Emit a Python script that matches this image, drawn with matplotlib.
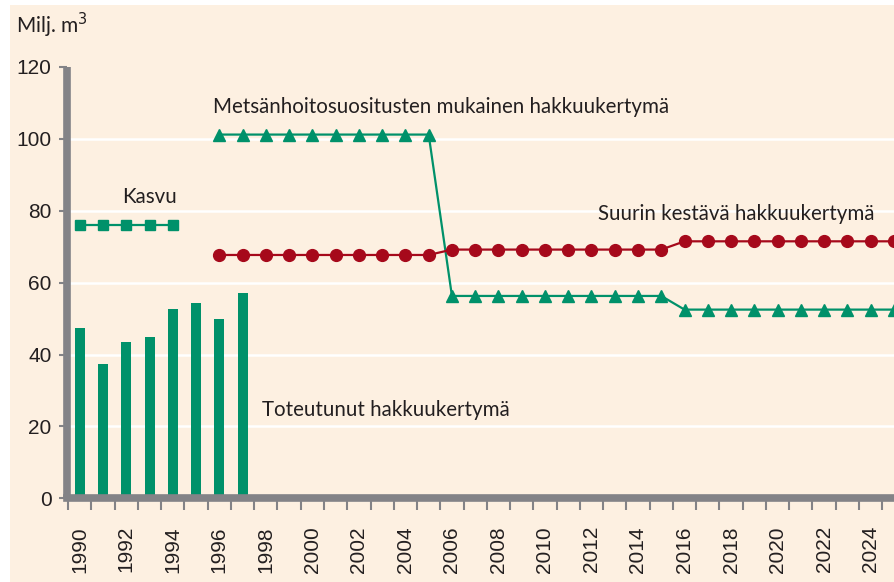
import numpy as np
import matplotlib
matplotlib.use('Agg')
import matplotlib.pyplot as plt
from matplotlib.patches import Rectangle

# data
bar_years = [1990, 1991, 1992, 1993, 1994, 1995, 1996, 1997]
bar_vals = [47.5, 37.5, 43.6, 44.8, 52.6, 54.2, 49.8, 57.0]

kasvu_years = [1990, 1991, 1992, 1993, 1994]
kasvu_vals = [76.1, 76.1, 76.1, 76.1, 76.1]

mets_years = list(range(1996, 2026))
mets_vals = [101.2] * 10 + [56.3] * 10 + [52.5] * 10

suurin_years = list(range(1996, 2026))
suurin_vals = [67.7] * 10 + [69.2] * 10 + [71.5] * 10

tick_years = list(range(1990, 2025, 2))
ytick_vals = [0, 20, 40, 60, 80, 100, 120]

bg = '#fdf0e1'
green = '#00916a'
red = '#a6091b'
grey = '#838387'
txt = '#231f20'

plt.rcParams['font.family'] = ['Liberation Sans', 'DejaVu Sans']

fig = plt.figure(figsize=(8.95, 5.82), dpi=100, facecolor='white')
fig.patches.append(Rectangle((10 / 895, 0), 1, 1 - 5 / 582, transform=fig.transFigure,
                             facecolor=bg, edgecolor='none', zorder=-10))
ax = fig.add_axes([67 / 895, (582 - 498.3) / 582, 1 - 67 / 895, (498.3 - 67) / 582])
ax.set_facecolor(bg)

ax.bar(bar_years, bar_vals, width=0.43, color=green, zorder=3)
ax.plot(kasvu_years, kasvu_vals, color=green, lw=1.6, marker='s', ms=7.5, zorder=4)
ax.plot(mets_years, mets_vals, color=green, lw=1.6, marker='^', ms=9, zorder=4)
ax.plot(suurin_years, suurin_vals, color=red, lw=1.6, marker='o', ms=8.5, zorder=4)

for s in ['top', 'right']:
    ax.spines[s].set_visible(False)
for s in ['left', 'bottom']:
    ax.spines[s].set_color(grey)
    ax.spines[s].set_linewidth(5.5)
    ax.spines[s].set_zorder(5)
ax.spines['left'].set_capstyle('butt')

ax.set_yticks(ytick_vals)
ax.tick_params(axis='y', length=6, width=1.5, color=grey, pad=5,
               labelsize=15, labelcolor=txt)
ax.grid(axis='y', color='white', lw=1.8, zorder=1)
gl = ax.yaxis.get_gridlines()
gl[0].set_visible(False)
gl[-1].set_visible(False)

ax.set_xticks(tick_years)
ax.set_xticklabels([str(y) for y in tick_years], rotation=90)
ax.set_xticks(np.arange(1989.5, 2026, 1), minor=True)
ax.tick_params(axis='x', which='major', length=0, pad=20, labelsize=15, labelcolor=txt)
ax.tick_params(axis='x', which='minor', length=8.5, width=1.5, color=grey)

# limits after the ticks, so the minor ticks don't widen the view
ax.set_xlim(1989.45, 2025.05)
ax.set_ylim(0, 120)

lab = dict(fontsize=14.8, color=txt, family=['Lato', 'DejaVu Sans'], va='baseline', ha='left')
ax.text(1995.73, 107.2, 'Metsänhoitosuositusten mukainen hakkuukertymä', **lab)
ax.text(1991.82, 82.3, 'Kasvu', **lab)
ax.text(2012.26, 77.5, 'Suurin kestävä hakkuukertymä', **lab)
ax.text(1997.83, 22.9, 'Toteutunut hakkuukertymä', **lab)
fig.text(16 / 895, (582 - 33) / 582, 'Milj. m$^3$', fontsize=15, color=txt,
         family=['Lato', 'DejaVu Sans'], va='baseline', ha='left')

fig.savefig('out.png', dpi=100, facecolor=fig.get_facecolor())
